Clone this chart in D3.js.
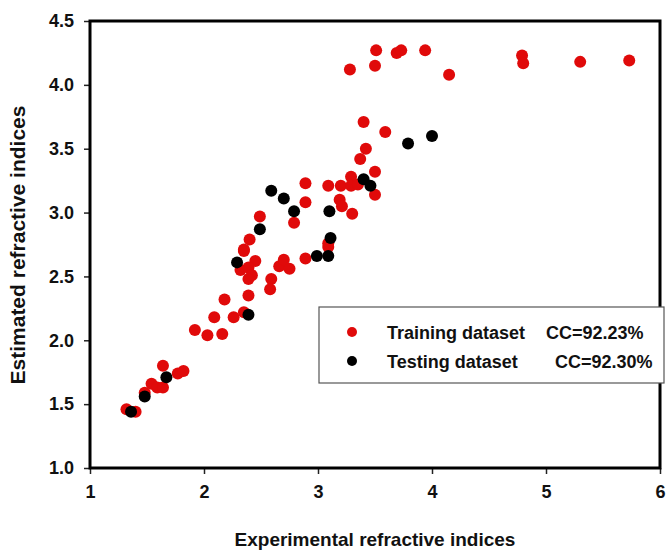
<!DOCTYPE html>
<html>
<head>
<meta charset="utf-8">
<script src="https://cdn.jsdelivr.net/npm/d3@7"></script>
<style>
  html, body { margin: 0; padding: 0; background: #fff; }
  svg text { font-family: "Liberation Sans", Arial, sans-serif; font-weight: bold; fill: #111; }
</style>
</head>
<body>
<div id="chart"></div>
<script>
/* ── Data ─────────────────────────────────────────────────────── */
const trainX = [3.28, 3.51, 3.50, 3.69, 3.73, 3.94, 4.15, 4.79, 4.80, 5.30, 5.73,
  3.40, 3.59, 3.42, 3.37, 3.50,
  2.89, 2.89, 3.09, 3.20, 3.29, 3.29, 3.35, 3.19, 3.21, 3.30, 3.50, 2.79,
  2.49, 2.40, 2.35, 2.35, 2.45, 2.32, 2.39, 2.42, 2.39, 2.39, 2.35, 2.18, 2.26, 2.09,
  1.92, 2.03, 2.16, 2.59, 2.58, 2.66, 2.70, 2.75, 2.89, 3.09, 3.09,
  1.64, 1.77, 1.82, 1.54, 1.59, 1.64, 1.48, 1.32, 1.40];
const trainY = [4.12, 4.27, 4.15, 4.25, 4.27, 4.27, 4.08, 4.23, 4.17, 4.18, 4.19,
  3.71, 3.63, 3.50, 3.42, 3.32,
  3.23, 3.08, 3.21, 3.21, 3.28, 3.21, 3.22, 3.10, 3.05, 2.99, 3.14, 2.92,
  2.97, 2.79, 2.71, 2.70, 2.62, 2.55, 2.57, 2.51, 2.48, 2.35, 2.22, 2.32, 2.18, 2.18,
  2.08, 2.04, 2.05, 2.48, 2.40, 2.58, 2.63, 2.56, 2.64, 2.73, 2.76,
  1.80, 1.74, 1.76, 1.66, 1.63, 1.63, 1.59, 1.46, 1.44];

const testX = [3.79, 4.00, 3.40, 3.46, 2.70, 2.79, 3.10, 3.11, 2.59, 2.49,
  2.29, 2.39, 2.99, 3.09, 1.67, 1.48, 1.36];
const testY = [3.54, 3.60, 3.26, 3.21, 3.11, 3.01, 3.01, 2.80, 3.17, 2.87,
  2.61, 2.20, 2.66, 2.66, 1.71, 1.56, 1.44];

const xTicks = [1, 2, 3, 4, 5, 6];
const yTicks = [1.0, 1.5, 2.0, 2.5, 3.0, 3.5, 4.0, 4.5];

const legendLabels = ["Training dataset", "Testing dataset"];
const legendCC = ["CC=92.23%", "CC=92.30%"];
const colors = ["#e00a0a", "#000000"];

/* ── Layout ───────────────────────────────────────────────────── */
const W = 666, H = 550;
const m = { left: 90, right: 6, top: 21, bottom: 82 };

const svg = d3.select("#chart").append("svg")
  .attr("width", W).attr("height", H);

const x = d3.scaleLinear().domain([1, 6]).range([m.left, W - m.right]);
const y = d3.scaleLinear().domain([1, 4.5]).range([H - m.bottom, m.top]);

/* ── Points ───────────────────────────────────────────────────── */
const train = trainX.map((v, i) => ({ x: v, y: trainY[i] }));
const test = testX.map((v, i) => ({ x: v, y: testY[i] }));

svg.append("g").selectAll("circle").data(train).join("circle")
  .attr("cx", d => x(d.x)).attr("cy", d => y(d.y)).attr("r", 6)
  .attr("fill", colors[0]);

svg.append("g").selectAll("circle").data(test).join("circle")
  .attr("cx", d => x(d.x)).attr("cy", d => y(d.y)).attr("r", 6)
  .attr("fill", colors[1]);

/* ── Axes ─────────────────────────────────────────────────────── */
const xAxis = svg.append("g")
  .attr("transform", `translate(0,${H - m.bottom})`)
  .call(d3.axisBottom(x).tickValues(xTicks).tickFormat(d3.format("d")).tickSize(6).tickPadding(11));

const yAxis = svg.append("g")
  .attr("transform", `translate(${m.left},0)`)
  .call(d3.axisLeft(y).tickValues(yTicks).tickFormat(d3.format(".1f")).tickSize(6).tickPadding(10));

[xAxis, yAxis].forEach(a => {
  a.select(".domain").remove();
  a.selectAll(".tick line").attr("stroke", "#222").attr("stroke-width", 1.5);
  a.selectAll(".tick text").attr("font-size", 18).attr("fill", "#111");
});

// frame
svg.append("rect")
  .attr("x", x(1)).attr("y", y(4.5))
  .attr("width", x(6) - x(1)).attr("height", y(1) - y(4.5))
  .attr("fill", "none").attr("stroke", "#000").attr("stroke-width", 3);

/* ── Axis titles ──────────────────────────────────────────────── */
svg.append("text")
  .attr("x", 375).attr("y", 546)
  .attr("text-anchor", "middle").attr("font-size", 19)
  .text("Experimental refractive indices");

svg.append("text")
  .attr("transform", `translate(25,245) rotate(-90)`)
  .attr("text-anchor", "middle").attr("font-size", 21)
  .text("Estimated refractive indices");

/* ── Legend ───────────────────────────────────────────────────── */
const lg = svg.append("g").attr("transform", "translate(319,307)");
lg.append("rect")
  .attr("width", 345).attr("height", 76)
  .attr("fill", "#fff").attr("stroke", "#555").attr("stroke-width", 1.2);

const ccX = [227, 236];
legendLabels.forEach((lab, i) => {
  const row = lg.append("g").attr("transform", `translate(0,${25 + i * 29})`);
  row.append("circle").attr("cx", 33).attr("cy", 0).attr("r", 5).attr("fill", colors[i]);
  row.append("text").attr("x", 68).attr("y", 7).attr("font-size", 18).text(lab);
  row.append("text").attr("x", ccX[i]).attr("y", 7).attr("font-size", 18).text(legendCC[i]);
});
</script>
</body>
</html>
